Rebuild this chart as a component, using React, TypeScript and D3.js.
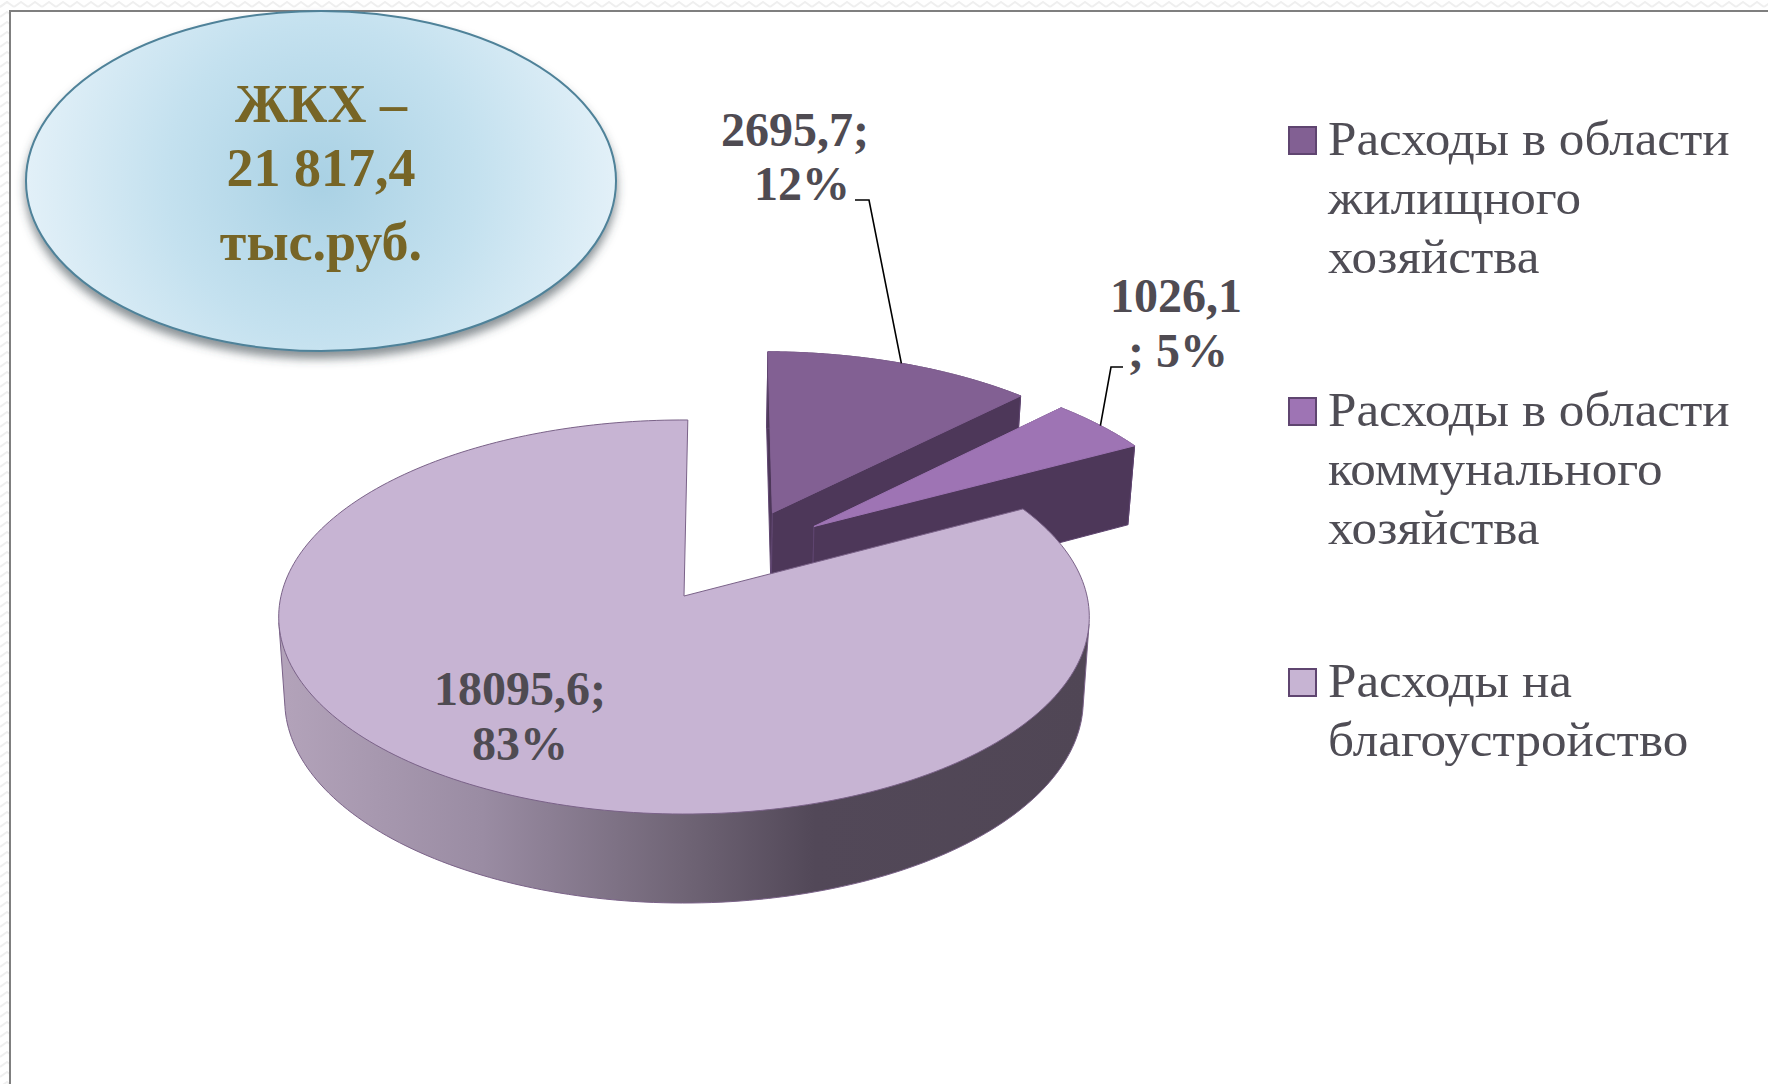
import { useMemo } from 'react';
import * as d3 from 'd3';

const WIDTH = 1768;
const HEIGHT = 1084;

// values, thousand rubles
const values = [2695.7, 1026.1, 18095.6];
const valueLabels = [['2695,7;', '12%'], ['1026,1', '; 5%'], ['18095,6;', '83%']];
const legendLabels = [
  ['Расходы в области', 'жилищного', 'хозяйства'],
  ['Расходы в области', 'коммунального', 'хозяйства'],
  ['Расходы на', 'благоустройство'],
];
const topColors = ['#826093', '#9e74b4', '#c7b4d3'];
const calloutLines = ['ЖКХ –', '21 817,4', 'тыс.руб.'];

const DEG = Math.PI / 180;
const rotation = 0.6 * DEG;
const explode = [{ r: 0.503, a: 27.2 * DEG }, { r: 0.5, a: 42.1 * DEG }, { r: 0, a: 0 }];

// perspective of the disc: u to the right, v away from viewer
const cx = 684;
const cy = 596;
const k = 0.1066;
const project = (u: number, v: number): [number, number] => {
  const w = 1 + k * v;
  return [cx + (403 * u) / w, cy - (194.8 * v) / w];
};
// the bottom face of the pie, moved down and a bit narrower
const drop = ([x, y]: [number, number]): [number, number] => [cx + 0.985 * (x - cx), 1.027 * y + 67];

const path = d3.line();

export default function App() {
  const slices = useMemo(
    () => d3.pie<number>().sort(null).startAngle(rotation).endAngle(2 * Math.PI + rotation)(values),
    []
  );

  const parts = slices.map((s, i) => {
    const ox = explode[i].r * Math.sin(explode[i].a);
    const oy = explode[i].r * Math.cos(explode[i].a);
    const at = (a: number, r = 1) => project(ox + r * Math.sin(a), oy + r * Math.cos(a));
    const angles = d3.range(0, 241).map(t => s.startAngle + ((s.endAngle - s.startAngle) * t) / 240);
    const arc = angles.map(a => at(a));
    const apex = at(0, 0);
    // hull of the front part gives the side of the drum with its tangent edges
    const front = angles.filter(a => Math.cos(a) < -0.12).map(a => at(a));
    const hull = front.length ? d3.polygonHull([...front, ...front.map(drop)]) : null;
    return {
      top: path([apex, ...arc])! + 'Z',
      outer: path([...arc, ...arc.map(drop).reverse()])! + 'Z',
      side: hull ? path(hull)! + 'Z' : '',
      startWall: path([apex, arc[0], drop(arc[0]), drop(apex)])! + 'Z',
      endWall: path([apex, arc[240], drop(arc[240]), drop(apex)])! + 'Z',
      mid: at((s.startAngle + s.endAngle) / 2),
    };
  });

  const wedge1 = parts[0].mid;
  const wedge2 = parts[1].mid;

  return (
    <svg width={WIDTH} height={HEIGHT} style={{ position: 'absolute', left: 0, top: 0, background: '#fff' }} fontFamily="'Liberation Serif'">
      <defs>
        <radialGradient id="oval" gradientUnits="userSpaceOnUse" cx={321} cy={181} r={312}>
          <stop offset="0" stopColor="#a9d1e4" />
          <stop offset="0.5" stopColor="#c4e1ef" />
          <stop offset="1" stopColor="#e6f2f9" />
        </radialGradient>
        <linearGradient id="side" gradientUnits="userSpaceOnUse" x1={280} x2={1090} y1={0} y2={0}>
          <stop offset="0" stopColor="#b3a3ba" />
          <stop offset="0.25" stopColor="#9a8ca3" />
          <stop offset="0.5" stopColor="#6f6475" />
          <stop offset="0.66" stopColor="#524858" />
          <stop offset="1" stopColor="#504655" />
        </linearGradient>
        <filter id="shadow" x="-10%" y="-10%" width="120%" height="125%">
          <feDropShadow dx="0" dy="7" stdDeviation="5" floodColor="#3c4a50" floodOpacity="0.6" />
        </filter>
        <pattern id="zig" width={14} height={10} patternUnits="userSpaceOnUse">
          <path d="M0,7L7,2L14,7" fill="none" stroke="#efefef" strokeWidth={2} />
        </pattern>
      </defs>

      {/* faint slide texture outside of the frame */}
      <rect x={0} y={0} width={WIDTH} height={10} fill="url(#zig)" />
      <rect x={0} y={0} width={9} height={HEIGHT} fill="url(#zig)" />
      <path d={`M10,${HEIGHT}V11H${WIDTH}`} fill="none" stroke="#7f7f7f" strokeWidth={2} />

      <ellipse cx={321} cy={181} rx={295} ry={170} fill="url(#oval)" stroke="#4f8299" strokeWidth={2} filter="url(#shadow)" />
      <g fill="#776526" fontWeight="bold" fontSize={54} textAnchor="middle">
        {calloutLines.map((t, i) => (
          <text key={t} x={321} y={[122, 186, 260][i]}>{t}</text>
        ))}
      </g>

      {/* exploded wedges first, the big slice overlaps their walls */}
      {[0, 1].map(i => (
        <g key={i} stroke="#5f4570" strokeWidth={1} strokeLinejoin="round">
          <path d={parts[i].startWall} fill="#4d3759" />
          <path d={parts[i].outer} fill="#4d3759" />
          <path d={parts[i].endWall} fill="#4d3759" />
          <path d={parts[i].top} fill={topColors[i]} stroke={topColors[i]} />
        </g>
      ))}
      <path d={parts[2].side} fill="url(#side)" stroke="#7a6288" strokeWidth={1} />
      <path d={parts[2].top} fill={topColors[2]} stroke="#7a6288" strokeWidth={1} strokeLinejoin="round" />

      <g fill="none" stroke="#000" strokeWidth={1.6}>
        <polyline points={`855,200 869,200 ${wedge1[0]},${wedge1[1]}`} />
        <polyline points={`1123,367 1111,367 ${wedge2[0]},${wedge2[1]}`} />
      </g>

      <g fill="#4f4b52" fontWeight="bold" fontSize={48} textAnchor="middle">
        {valueLabels.map((lines, i) =>
          lines.map((t, j) => (
            <text
              key={t}
              x={[795, 1176, 520][i] + (j ? [7, 2, 0][i] : 0)}
              y={[146, 312, 705][i] + j * [54, 55, 55][i]}
            >
              {t}
            </text>
          ))
        )}
      </g>

      {legendLabels.map((lines, i) => {
        const y = [127, 398, 669][i];
        return (
          <g key={i}>
            <rect x={1289} y={y} width={27} height={27} fill={topColors[i]} stroke="#5f4570" strokeWidth={2} />
            {lines.map((t, j) => (
              <text key={j} transform={`translate(1328,${y + 28 + j * 59}) scale(1.065,1)`} fontSize={48} fill="#4f4d55">{t}</text>
            ))}
          </g>
        );
      })}
    </svg>
  );
}
